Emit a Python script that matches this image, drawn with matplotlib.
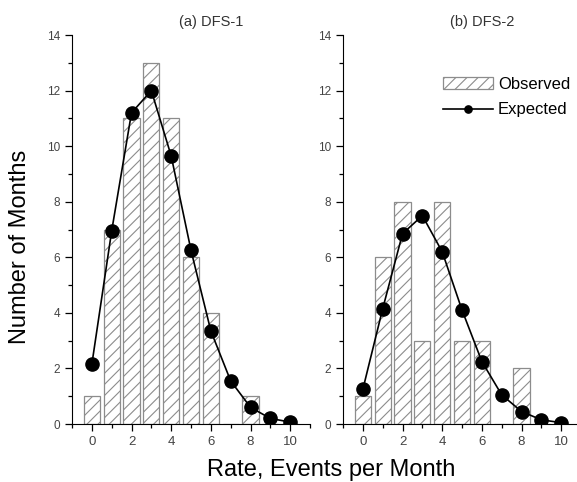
import numpy as np
import matplotlib
matplotlib.use("Agg")
import matplotlib.pyplot as plt
from matplotlib.ticker import MultipleLocator

plt.rcParams["font.family"] = ["Liberation Sans", "DejaVu Sans"]
plt.rcParams["hatch.color"] = "#8c8c8c"
plt.rcParams["hatch.linewidth"] = 0.8

rate = np.arange(11)
obs_dfs1 = [1, 7, 11, 13, 11, 6, 4, 0, 1, 0, 0]
exp_dfs1 = [2.15, 6.95, 11.2, 12.0, 9.65, 6.25, 3.35, 1.55, 0.6, 0.2, 0.07]
obs_dfs2 = [1, 6, 8, 3, 8, 3, 3, 0, 2, 0, 0]
exp_dfs2 = [1.25, 4.15, 6.85, 7.5, 6.2, 4.1, 2.25, 1.05, 0.45, 0.15, 0.05]
titles = ["(a) DFS-1", "(b) DFS-2"]

fig = plt.figure(figsize=(5.77, 4.82), dpi=100)
ax1 = fig.add_axes([0.1248, 0.1203, 0.4125, 0.807])
ax2 = fig.add_axes([0.5945, 0.1203, 0.4125, 0.807])

handles = []
for ax, obs, exp, title in zip([ax1, ax2], [obs_dfs1, obs_dfs2], [exp_dfs1, exp_dfs2], titles):
    bars = ax.bar(rate, obs, width=0.82, facecolor="white", edgecolor="#8c8c8c",
                  hatch="///", linewidth=0.9, label="Observed")
    line, = ax.plot(rate, exp, color="black", lw=1.2, marker="o", ms=9.5, label="Expected")
    handles = [bars, line]
    ax.set_xlim(-1, 11)
    ax.set_ylim(0, 14)
    ax.xaxis.set_major_locator(MultipleLocator(2))
    ax.xaxis.set_minor_locator(MultipleLocator(1))
    ax.yaxis.set_major_locator(MultipleLocator(2))
    ax.yaxis.set_minor_locator(MultipleLocator(1))
    ax.spines["top"].set_visible(False)
    ax.spines["right"].set_visible(False)
    ax.tick_params(which="major", length=5, width=0.9, labelcolor="#444444")
    ax.tick_params(which="minor", length=3, width=0.9)
    ax.tick_params(axis="x", labelsize=9.5)
    ax.tick_params(axis="y", labelsize=8.5)
    ax.text(6, 14.47, title, ha="center", va="center", fontsize=10.5, color="#333333")

ax2.legend(handles, ["Observed", "Expected"], loc="upper left",
           bbox_to_anchor=(0.42, 0.893), frameon=False,
           fontsize=12, handlelength=3.0, handletextpad=0.3, labelspacing=0.65,
           borderaxespad=0, borderpad=0, markerscale=0.55)

fig.text(0.035, 0.487, "Number of Months", rotation=90, ha="center", va="center", fontsize=17)
fig.text(0.574, 0.025, "Rate, Events per Month", ha="center", va="center", fontsize=17)

fig.savefig("out.png", dpi=100)
